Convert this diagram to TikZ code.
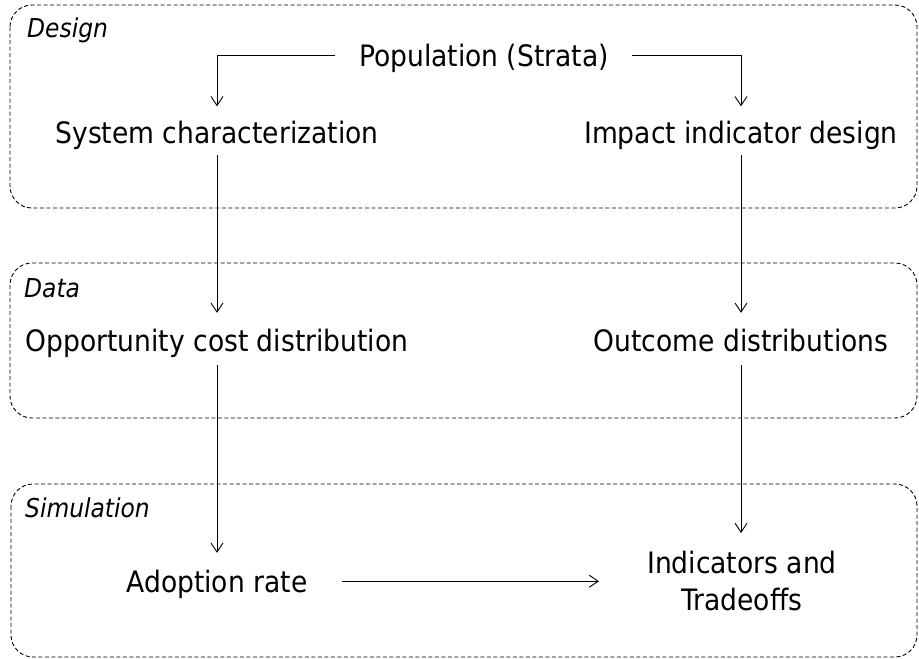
\documentclass[tikz,border=0pt]{standalone}
\usepackage{fontspec}
\setmainfont{DejaVu Sans Condensed}
\usetikzlibrary{arrows.meta}

\tikzset{
  stage/.style={draw, dash pattern=on 4pt off 2.5pt, line width=0.9pt, rounded corners=22pt},
  stagelabel/.style={anchor=base west, inner sep=0pt, font=\fontsize{26}{30}\selectfont\itshape},
  item/.style={anchor=base, inner sep=0pt, text height=21.5pt, text depth=0pt,
               font=\fontsize{29.5}{37}\selectfont},
  flow/.style={line width=0.9pt, -{Straight Barb[length=9pt,width=12pt,line width=0.9pt]}},
}

\begin{document}
\begin{tikzpicture}[x=1pt, y=-1pt]
  \useasboundingbox (0,0) rectangle (919,659);

  % stage frames
  \draw[stage] (10,5) rectangle (917,208);
  \draw[stage] (10,263) rectangle (917,418);
  \draw[stage] (11,484) rectangle (917,657);

  \node[stagelabel] (lbldesign) at (27,37)  {Design};
  \node[stagelabel] (lbldata)   at (24,297) {Data};
  \node[stagelabel] (lblsim)    at (25,517) {Simulation};

  % steps
  \node[item] (pop)   at (484,66)  {Population (Strata)};
  \node[item] (sys)   at (217,143) {System characterization};
  \node[item] (imp)   at (741,143) {Impact indicator design};
  \node[item] (opp)   at (217,351) {Opportunity cost distribution};
  \node[item] (out)   at (741,351) {Outcome distributions};
  \node[item] (adopt) at (217,592) {Adoption rate};
  \node[anchor=north, inner sep=0pt, align=center, font=\fontsize{29.5}{37}\selectfont]
        (ind) at (742,550.6) {Indicators and\\Tradeoffs};

  % connectors
  \draw[flow, shorten <=24pt, shorten >=15pt] (pop.west) -| (sys.north);
  \draw[flow, shorten <=23pt, shorten >=15pt] (pop.east) -| (imp.north);
  \draw[flow, shorten <=12pt, shorten >=16.5pt] (sys.south) -- (opp.north);
  \draw[flow, shorten <=12pt, shorten >=16.5pt] (imp.south) -- (out.north);
  \draw[flow, shorten <=14pt, shorten >=17.5pt] (opp.south) -- (adopt.north);
  \draw[flow, shorten <=14pt, shorten >=17.6pt] (out.south) -- (out.south |- ind.north);
  \draw[flow, shorten <=34pt, shorten >=48pt] (adopt.east) -- (adopt.east -| ind.west);
\end{tikzpicture}
\end{document}
